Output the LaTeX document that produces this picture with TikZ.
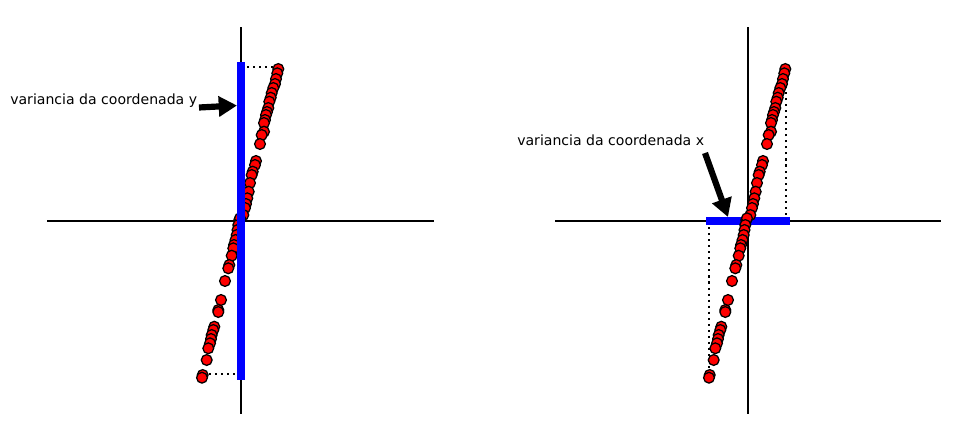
\documentclass[tikz,border=0pt]{standalone}
\usepackage{fontspec}
\setmainfont{DejaVu Sans}
\usetikzlibrary{arrows.meta,calc}

\newcommand{\datapts}{37.3/-152, 36.3/-147.7, 35/-142, 34/-137, 32.3/-133, 30.7/-128, 29.7/-123.3, 28.3/-119.3, 27.3/-113, 26/-109, 25/-106, 24/-101, 23/-98, 23/-89.3, 20.7/-86, 19/-77, 15/-60, 14/-56, 11.7/-49.3, 10.7/-46, 9/-38, 7.7/-29.3, 6.3/-22.7, 5/-17, 4/-13, 2.3/-6, -1.7/-1, -1/-2.7, -2.7/4, -3.5/9, -4.3/14, -5.5/19, -7/24, -7.7/27.3, -9.3/34.7, -11.7/44, -12.7/47.3, -16/60, -20/79, -22.7/89, -22.7/91, -26.7/105.7, -27.7/109, -29.3/114, -30/118, -31/122.3, -32.7/127.3, -34.3/139, -38.3/154, -39/156.7}

\tikzset{
  axis/.style={line width=1.6pt},
  datapt/.style={fill=red,draw=black,line width=0.9pt},
  spread/.style={draw=blue,line width=5pt,line cap=rect},
  guide/.style={line width=1.5pt,dash pattern=on 1.5pt off 2.8pt},
  pointer/.style={line width=4.4pt,-{Triangle[length=13pt,width=14pt]}},
  lbl/.style={font=\fontsize{10}{12}\selectfont,inner sep=0pt}
}

\begin{document}
\begin{tikzpicture}[x=0.025cm,y=-0.025cm]
    \useasboundingbox (0,0) rectangle (969,442);

    \coordinate (oy) at (241,221);
    \draw[axis] (47,221) -- (434,221);
    \draw[axis] (241,27) -- (241,414);
    \draw[guide] (241,67) -- (278,67);
    \draw[guide] (203,374) -- (241,374);
    \foreach \px/\py in \datapts
        \draw[datapt] ($(oy)+(\px,\py)$) circle[radius=5.4];
    \coordinate (ytop) at (241,66);
    \coordinate (ybot) at (241,376);
    \draw[spread] (ytop) -- (ybot);
    \node[lbl,anchor=west] (vary) at (10,101) {variancia da coordenada y};
    \coordinate (ytail) at (199,107.5);
    \coordinate (yhead) at (237,105.5);
    \draw[pointer] (ytail) -- (yhead);

    \coordinate (ox) at (748,221);
    \draw[axis] (555,221) -- (941,221);
    \draw[axis] (748,27) -- (748,414);
    \draw[guide] (709,221) -- (709,378);
    \draw[guide] (786,221) -- (786,70);
    \coordinate (xleft) at (709.5,221);
    \coordinate (xright) at (786.5,221);
    \draw[spread] (xleft) -- (xright);
    \foreach \px/\py in \datapts
        \draw[datapt] ($(ox)+(\px,\py)$) circle[radius=5.4];
    \node[lbl,anchor=west] (varx) at (517,140) {variancia da coordenada x};
    \coordinate (xtail) at (705,153);
    \coordinate (xhead) at (728,217);
    \draw[pointer] (xtail) -- (xhead);

\end{tikzpicture}
\end{document}
